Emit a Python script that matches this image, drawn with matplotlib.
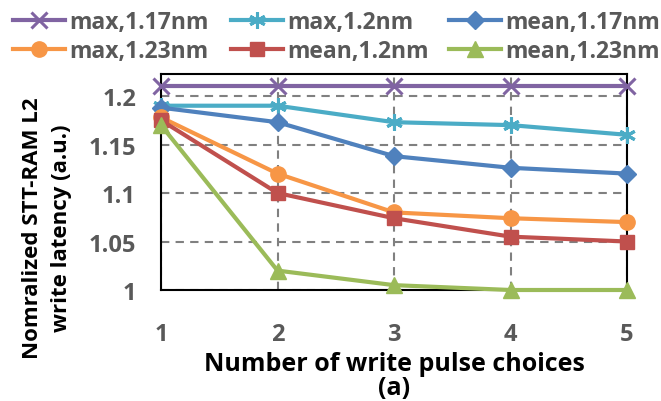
import matplotlib
matplotlib.use("Agg")
import matplotlib.pyplot as plt

plt.rcParams['font.family'] = ['Open Sans', 'DejaVu Sans']

x = [1, 2, 3, 4, 5]
labels = ['max,1.17nm', 'max,1.2nm', 'mean,1.17nm', 'max,1.23nm', 'mean,1.2nm', 'mean,1.23nm']
max_117 = [1.21, 1.21, 1.21, 1.21, 1.21]
max_120 = [1.19, 1.19, 1.173, 1.17, 1.16]
mean_117 = [1.188, 1.173, 1.138, 1.126, 1.12]
max_123 = [1.178, 1.12, 1.08, 1.074, 1.07]
mean_120 = [1.175, 1.10, 1.074, 1.055, 1.05]
mean_123 = [1.17, 1.02, 1.005, 1.0, 1.0]

series = [max_117, max_120, mean_117, max_123, mean_120, mean_123]
colors = ['#8064A2', '#4BACC6', '#4F81BD', '#F79646', '#C0504D', '#9BBB59']
markers = ['x', (6, 2, 0), 'D', 'o', 's', '^']
msizes = [12, 12, 9, 11, 10, 11]

fig = plt.figure(figsize=(6.61, 4.02), dpi=100)
ax = fig.add_axes([161 / 661, 1 - 291 / 402, (627 - 161) / 661, (291 - 75) / 402])

lines = []
for ys, lab, c, m, ms in zip(series, labels, colors, markers, msizes):
    ln, = ax.plot(x, ys, color=c, lw=3, marker=m, ms=ms,
                  mew=2.2 if m in ('x', (6, 2, 0)) else 1,
                  mec=c, mfc=c, label=lab, clip_on=False, zorder=3)
    lines.append(ln)

ax.set_xlim(1, 5)
ax.set_ylim(1, 1.2227)
ax.set_xticks(x)
ax.set_yticks([1, 1.05, 1.1, 1.15, 1.2])
ax.set_yticklabels(['1', '1.05', '1.1', '1.15', '1.2'])
ax.grid(True, color='#808080', ls=(0, (4, 3)), lw=1.5)
for s in ax.spines.values():
    s.set_linewidth(1.5)
ax.tick_params(length=0, labelsize=17, labelcolor='#595959')
ax.tick_params(axis='x', pad=23)
ax.tick_params(axis='y', pad=18)
for t in ax.get_xticklabels() + ax.get_yticklabels():
    t.set_fontweight('bold')

ax.set_xlabel('Number of write pulse choices\n(a)', fontsize=18, fontweight='bold',
              labelpad=4, linespacing=0.9)
ax.set_ylabel('Nomralized STT-RAM L2\nwrite latency (a.u.)', fontsize=16, fontweight='bold',
              linespacing=1.5)
ax.yaxis.set_label_coords(-0.19, 0.29)

# one legend per column so the columns sit where the reference has them
col_x = [8, 226, 444]
col_items = [[0, 3], [1, 4], [2, 5]]
for cx, items in zip(col_x, col_items):
    leg = fig.legend([lines[i] for i in items], [labels[i] for i in items],
                     loc='upper left', bbox_to_anchor=(cx / 661, 1 - 6 / 402), ncol=1,
                     frameon=False, handlelength=2.3, handletextpad=0.18,
                     labelspacing=0.25, borderaxespad=0.0, borderpad=0.2,
                     prop={'size': 16.5, 'weight': 'bold'})
    for t in leg.get_texts():
        t.set_color('#595959')

fig.savefig('out.png', dpi=100)
